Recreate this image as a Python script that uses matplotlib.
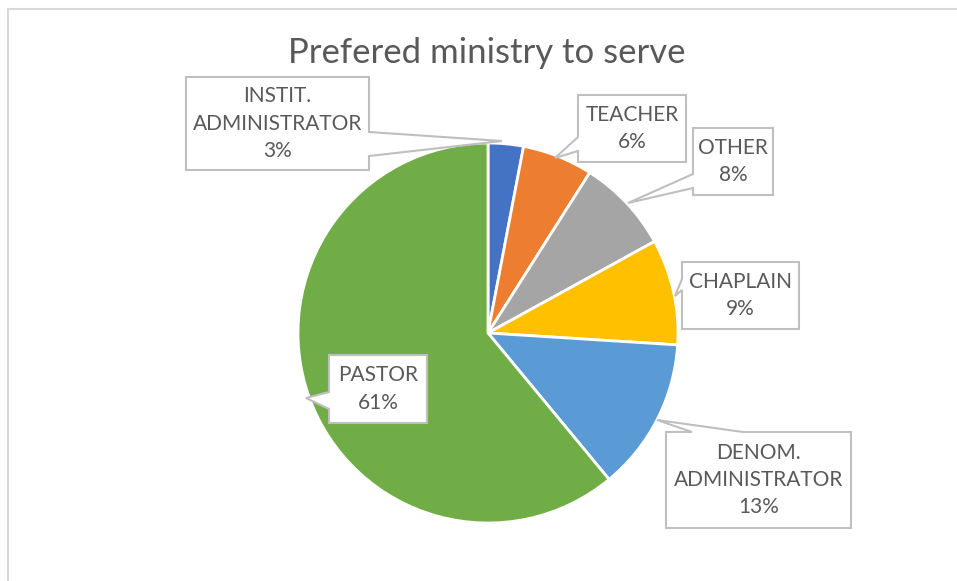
import matplotlib
matplotlib.use("Agg")
import matplotlib.pyplot as plt
from matplotlib.patches import Polygon

categories = ["INSTIT.\nADMINISTRATOR", "TEACHER", "OTHER", "CHAPLAIN",
              "DENOM.\nADMINISTRATOR", "PASTOR"]
shares = [3, 6, 8, 9, 13, 61]
colors = ["#4472C4", "#ED7D31", "#A5A5A5", "#FFC000", "#5B9BD5", "#70AD47"]

W, H = 957, 581
fig = plt.figure(figsize=(W / 100, H / 100), dpi=100)
ax = fig.add_axes([0, 0, 1, 1])


def Y(y):
    return H - y


ax.pie(shares, colors=colors, startangle=90, counterclock=False,
       center=(488, Y(333)), radius=190,
       wedgeprops=dict(edgecolor="white", linewidth=2))
ax.set_xlim(0, W)
ax.set_ylim(0, H)
ax.set_aspect("equal")
ax.axis("off")

# callout boxes: (x0, y0, x1, y1), pointer side, base positions along side, tip
callouts = [
    ((186, 77, 369, 170), "right", (132, 156), (502, 141)),
    ((578, 95, 686, 162), "left", (137, 151), (555, 158)),
    ((693, 128, 773, 195), "left", (174, 188), (628, 203)),
    ((682, 262, 799, 329), "left", (279, 290), (675, 296)),
    ((666, 432, 851, 528), "top", (692, 743), (657, 420)),
    ((329, 355, 427, 423), "left", (392, 409), (306, 398)),
]


def callout_vertices(box, side, base, tip):
    x0, y0, x1, y1 = box
    b0, b1 = base
    if side == "right":
        pts = [(x0, y0), (x1, y0), (x1, b0), tip, (x1, b1), (x1, y1), (x0, y1)]
    elif side == "left":
        pts = [(x0, y0), (x1, y0), (x1, y1), (x0, y1), (x0, b1), tip, (x0, b0)]
    else:  # top
        pts = [(x0, y0), (b0, y0), tip, (b1, y0), (x1, y0), (x1, y1), (x0, y1)]
    return [(px, Y(py)) for px, py in pts]


for (box, side, base, tip), name, val in zip(callouts, categories, shares):
    poly = Polygon(callout_vertices(box, side, base, tip), closed=True,
                   facecolor="white", edgecolor="#BFBFBF", linewidth=1.5,
                   joinstyle="miter", zorder=5)
    ax.add_patch(poly)
    cx = (box[0] + box[2]) / 2
    cy = (box[1] + box[3]) / 2
    ax.text(cx, Y(cy), f"{name}\n{val}%", ha="center", va="center",
            fontsize=15, family="Lato", color="#595959",
            linespacing=1.45, zorder=6)

ax.text(487, Y(53), "Prefered ministry to serve", ha="center", va="center",
        fontsize=25, family="Lato", color="#595959")

# chart area border (top and left edges)
ax.plot([8, 8], [Y(9), 0], color="#D9D9D9", linewidth=1.5, clip_on=False)
ax.plot([8, W], [Y(9), Y(9)], color="#D9D9D9", linewidth=1.5, clip_on=False)

fig.savefig("out.png", dpi=100, facecolor="white")
